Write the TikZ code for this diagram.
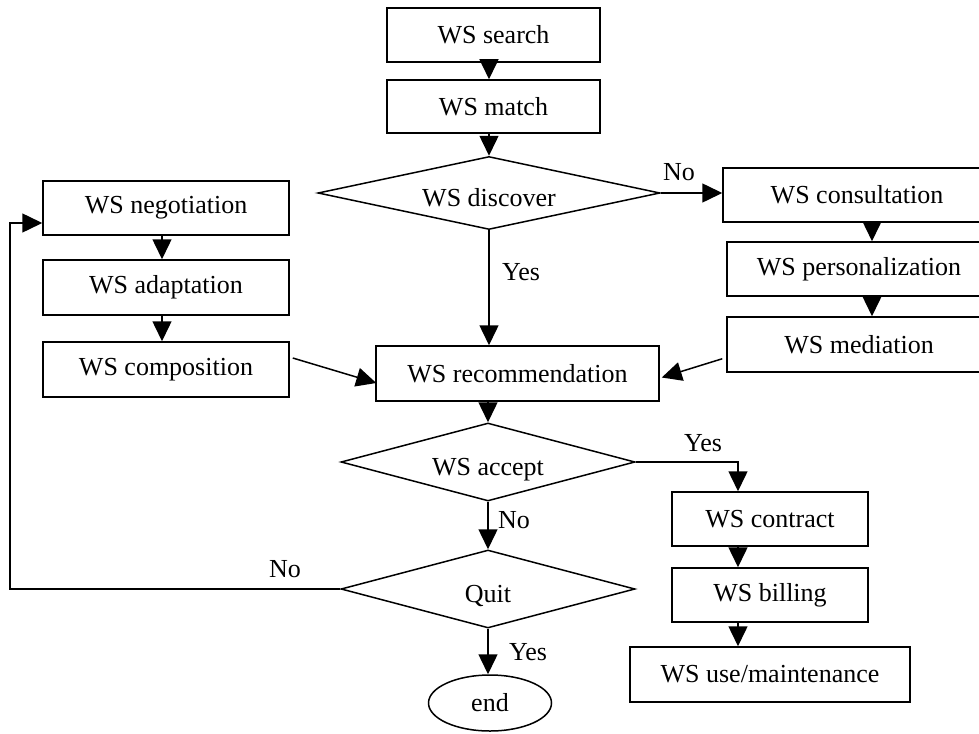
\documentclass[tikz,border=0pt]{standalone}
\usepackage{fontspec}
\setmainfont{Liberation Serif}
\usetikzlibrary{shapes.geometric,arrows.meta,calc}
\begin{document}
\begin{tikzpicture}[x=1pt,y=1pt,
  every node/.style={font=\fontsize{26}{30}\selectfont},
  box/.style={draw,line width=1.5pt,rectangle,inner sep=0pt},
  dia/.style={draw,line width=1.5pt,diamond,inner sep=0pt,aspect=4.5,text height=26pt,text depth=0pt},
  term/.style={draw,line width=1.5pt,ellipse,inner sep=0pt},
  arr/.style={line width=1.5pt,-{Triangle[length=20pt,width=19pt]}},
  lbl/.style={inner sep=0pt}]
\useasboundingbox (0,0) rectangle (979,-733);
\clip (0,0) rectangle (979,-733);
% nodes
\node[box,minimum width=213pt,minimum height=54pt] (search) at (493.5,-35) {WS search};
\node[box,minimum width=213pt,minimum height=53pt] (match) at (493.5,-106.5) {WS match};
\node[dia,minimum width=342pt,minimum height=73pt] (disc) at (489,-193) {WS discover};
\node[box,minimum width=283pt,minimum height=55pt] (rec) at (517.5,-373.5) {WS recommendation};
\node[dia,minimum width=294pt,minimum height=78pt] (accept) at (488,-462) {WS accept};
\node[dia,minimum width=294pt,minimum height=78pt] (quit) at (488,-589) {Quit};
\node[term,minimum width=123pt,minimum height=56pt] (end) at (490,-703) {end};
\node[box,minimum width=246pt,minimum height=54pt] (neg) at (166,-208) {WS negotiation};
\node[box,minimum width=246pt,minimum height=55pt] (adap) at (166,-287.5) {WS adaptation};
\node[box,minimum width=246pt,minimum height=55pt] (comp) at (166,-369.5) {WS composition};
\node[box,minimum width=268pt,minimum height=54pt] (cons) at (857,-195) {WS consultation};
\node[box,minimum width=264pt,minimum height=54pt] (pers) at (859,-269) {WS personalization};
\node[box,minimum width=264pt,minimum height=55pt] (med) at (859,-344.5) {WS mediation};
\node[box,minimum width=196pt,minimum height=54pt] (contract) at (770,-519) {WS contract};
\node[box,minimum width=196pt,minimum height=54pt] (bill) at (770,-595) {WS billing};
\node[box,minimum width=280pt,minimum height=55pt] (use) at (770,-674.5) {WS use/maintenance};
% helper coordinates
\coordinate (rx) at (872,0);
\coordinate (cx) at (738,0);
\coordinate (lx) at (10,0);
\coordinate (nx) at (162,0);
\coordinate (nin) at ($(neg.west)+(0,-15)$);
% connectors
\draw[arr] (search.south -| disc.north) -- (match.north -| disc.north);
\draw[arr] (match.south -| disc.north) -- (disc.north);
\draw[arr] (disc.east) -- (disc.east -| cons.west);
\draw[arr] (disc.south) -- (disc.south |- rec.north);
\draw[arr] (cons.south -| rx) -- (pers.north -| rx);
\draw[arr] (pers.south -| rx) -- (med.north -| rx);
\draw[arr] ($(med.south west)+(-4,14)$) -- ($(rec.east)+(2,-4)$);
\draw[arr] ($(comp.east)+(3,11.5)$) -- ($(rec.west)+(1,-9.5)$);
\draw[arr] (neg.south -| nx) -- (adap.north -| nx);
\draw[arr] (adap.south -| nx) -- (comp.north -| nx);
\draw[arr] (rec.south -| accept.north) -- (accept.north);
\draw[arr] (accept.south) -- (quit.north);
\draw[arr] (accept.east) -- (accept.east -| cx) -- (contract.north -| cx);
\draw[arr] (contract.south -| cx) -- (bill.north -| cx);
\draw[arr] (bill.south -| cx) -- (use.north -| cx);
\draw[arr] (quit.south) -- (quit.south |- end.north);
\draw[arr] (quit.west) -- (quit.west -| lx) -- (lx |- nin) -- (nin);
% labels
\node[lbl] (lno1) at (679,-172) {No};
\node[lbl] (lyes1) at (521,-272) {Yes};
\node[lbl] (lyes2) at (703,-443) {Yes};
\node[lbl] (lno2) at (514,-520) {No};
\node[lbl] (lno3) at (285,-569) {No};
\node[lbl] (lyes3) at (528,-652) {Yes};
\end{tikzpicture}
\end{document}
